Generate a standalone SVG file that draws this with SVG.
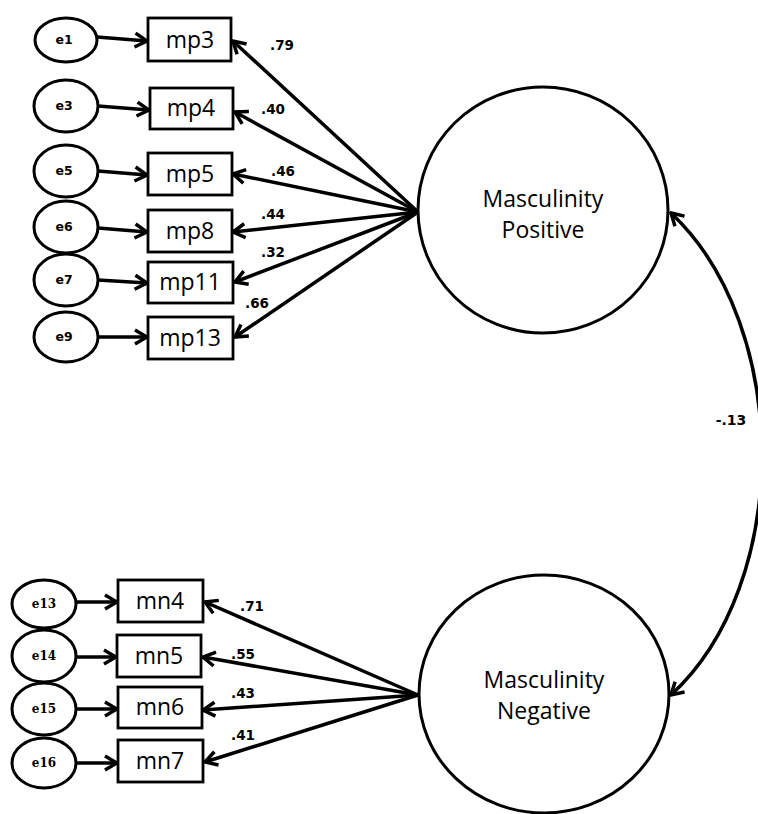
<svg xmlns="http://www.w3.org/2000/svg" width="758" height="814" viewBox="0 0 758 814">
  <style>
    .err { fill: #fff; stroke: #000; stroke-width: 3; }
    .obs { fill: #fff; stroke: #000; stroke-width: 2.8; }
    .lat { fill: #fff; stroke: #000; stroke-width: 3; }
    .edge { fill: none; stroke: #000; stroke-width: 3.5; marker-end: url(#ah); }
    .cov { fill: none; stroke: #000; stroke-width: 3.5; marker-start: url(#ah); marker-end: url(#ah); }
    .ename { font-family: "DejaVu Sans", sans-serif; font-weight: bold; font-size: 12.5px; text-anchor: middle; fill: #000; }
    .ename2 { font-family: "DejaVu Serif", serif; font-weight: bold; font-size: 12px; text-anchor: middle; fill: #000; }
    .oname { font-family: "Open Sans", sans-serif; font-size: 23px; text-anchor: middle; fill: #000; }
    .lname { font-family: "Open Sans", sans-serif; font-size: 23px; text-anchor: middle; fill: #000; }
    .coef { font-family: "DejaVu Sans", sans-serif; font-weight: bold; font-size: 13.5px; text-anchor: middle; fill: #000; }
  </style>
  <defs>
    <marker id="ah" viewBox="-15 -9 17 18" refX="0" refY="0" markerWidth="17" markerHeight="18" orient="auto-start-reverse" markerUnits="userSpaceOnUse">
      <path d="M-12,-7 L0,0 L-12,7" fill="none" stroke="#000" stroke-width="3.5"/>
    </marker>
  </defs>
  <rect width="758" height="814" fill="#fff"/>

  <!-- connectors -->
  <g id="connectors">
    <!-- error terms to indicators -->
    <line class="edge" x1="97" y1="37" x2="147" y2="41"/>
    <line class="edge" x1="98" y1="106" x2="149" y2="110"/>
    <line class="edge" x1="98" y1="171" x2="147" y2="175"/>
    <line class="edge" x1="98" y1="228" x2="147" y2="232"/>
    <line class="edge" x1="98" y1="280" x2="147" y2="283"/>
    <line class="edge" x1="98" y1="337" x2="147" y2="337"/>
    <line class="edge" x1="76" y1="602" x2="117" y2="602"/>
    <line class="edge" x1="76" y1="657" x2="116" y2="657"/>
    <line class="edge" x1="76" y1="709" x2="117" y2="709"/>
    <line class="edge" x1="76" y1="763" x2="117" y2="763"/>
    <!-- loadings: Masculinity Positive -->
    <line class="edge" x1="418" y1="212" x2="233" y2="41"/>
    <line class="edge" x1="418" y1="212" x2="235" y2="112"/>
    <line class="edge" x1="418" y1="212" x2="233" y2="174"/>
    <line class="edge" x1="418" y1="212" x2="233" y2="232"/>
    <line class="edge" x1="418" y1="212" x2="235" y2="282"/>
    <line class="edge" x1="418" y1="212" x2="235" y2="337"/>
    <!-- loadings: Masculinity Negative -->
    <line class="edge" x1="418" y1="695" x2="205" y2="602"/>
    <line class="edge" x1="418" y1="695" x2="203" y2="657"/>
    <line class="edge" x1="418" y1="695" x2="203" y2="710"/>
    <line class="edge" x1="418" y1="695" x2="205" y2="762"/>
    <!-- covariance between the two factors -->
    <path class="cov" d="M671,213 C792,327 792,584 671,695"/>
  </g>

  <!-- coefficient labels -->
  <g id="coefficients">
    <text class="coef" x="282" y="50">.79</text>
    <text class="coef" x="273" y="114">.40</text>
    <text class="coef" x="283" y="176">.46</text>
    <text class="coef" x="273" y="219">.44</text>
    <text class="coef" x="273" y="257">.32</text>
    <text class="coef" x="257" y="308">.66</text>
    <text class="coef" x="252" y="611">.71</text>
    <text class="coef" x="243" y="659">.55</text>
    <text class="coef" x="243" y="698">.43</text>
    <text class="coef" x="243" y="740">.41</text>
    <text class="coef" x="731" y="425" style="font-size:14px">-.13</text>
  </g>

  <!-- error terms -->
  <g id="e1"><ellipse class="err" cx="66" cy="40" rx="31" ry="22"/><text class="ename" x="64" y="44">e1</text></g>
  <g id="e3"><ellipse class="err" cx="66" cy="106" rx="32" ry="26"/><text class="ename" x="64" y="110">e3</text></g>
  <g id="e5"><ellipse class="err" cx="66" cy="171" rx="32" ry="26"/><text class="ename" x="64" y="175">e5</text></g>
  <g id="e6"><ellipse class="err" cx="66" cy="227" rx="32" ry="26"/><text class="ename" x="64" y="231">e6</text></g>
  <g id="e7"><ellipse class="err" cx="66" cy="280" rx="32" ry="26"/><text class="ename" x="64" y="284">e7</text></g>
  <g id="e9"><ellipse class="err" cx="66" cy="337" rx="32" ry="25"/><text class="ename" x="64" y="341">e9</text></g>
  <g id="e13"><ellipse class="err" cx="44" cy="604" rx="32" ry="24"/><text class="ename2" x="44" y="608">e13</text></g>
  <g id="e14"><ellipse class="err" cx="44" cy="656" rx="32" ry="26"/><text class="ename2" x="44" y="660">e14</text></g>
  <g id="e15"><ellipse class="err" cx="44" cy="709" rx="32" ry="26"/><text class="ename2" x="44" y="713">e15</text></g>
  <g id="e16"><ellipse class="err" cx="44" cy="763" rx="32" ry="25"/><text class="ename2" x="44" y="767">e16</text></g>

  <!-- indicators -->
  <g id="mp3"><rect class="obs" x="148" y="18" width="83" height="43"/><text class="oname" x="190" y="48">mp3</text></g>
  <g id="mp4"><rect class="obs" x="150" y="88" width="83" height="41"/><text class="oname" x="191" y="116">mp4</text></g>
  <g id="mp5"><rect class="obs" x="148" y="153" width="84" height="42"/><text class="oname" x="190" y="182">mp5</text></g>
  <g id="mp8"><rect class="obs" x="148" y="210" width="84" height="42"/><text class="oname" x="190" y="239">mp8</text></g>
  <g id="mp11"><rect class="obs" x="148" y="262" width="85" height="41"/><text class="oname" x="190" y="290">mp11</text></g>
  <g id="mp13"><rect class="obs" x="148" y="317" width="85" height="42"/><text class="oname" x="190" y="346">mp13</text></g>
  <g id="mn4"><rect class="obs" x="118" y="580" width="85" height="42"/><text class="oname" x="160" y="609">mn4</text></g>
  <g id="mn5"><rect class="obs" x="117" y="635" width="84" height="42"/><text class="oname" x="159" y="664">mn5</text></g>
  <g id="mn6"><rect class="obs" x="118" y="687" width="84" height="41"/><text class="oname" x="160" y="715">mn6</text></g>
  <g id="mn7"><rect class="obs" x="118" y="740" width="85" height="42"/><text class="oname" x="160" y="769">mn7</text></g>

  <!-- latent factors -->
  <g id="masculinity-positive">
    <ellipse class="lat" cx="543" cy="210" rx="125" ry="123"/>
    <text class="lname" x="543" y="207">Masculinity</text>
    <text class="lname" x="543" y="238">Positive</text>
  </g>
  <g id="masculinity-negative">
    <ellipse class="lat" cx="544" cy="694" rx="125" ry="119"/>
    <text class="lname" x="544" y="688">Masculinity</text>
    <text class="lname" x="544" y="719">Negative</text>
  </g>
</svg>
